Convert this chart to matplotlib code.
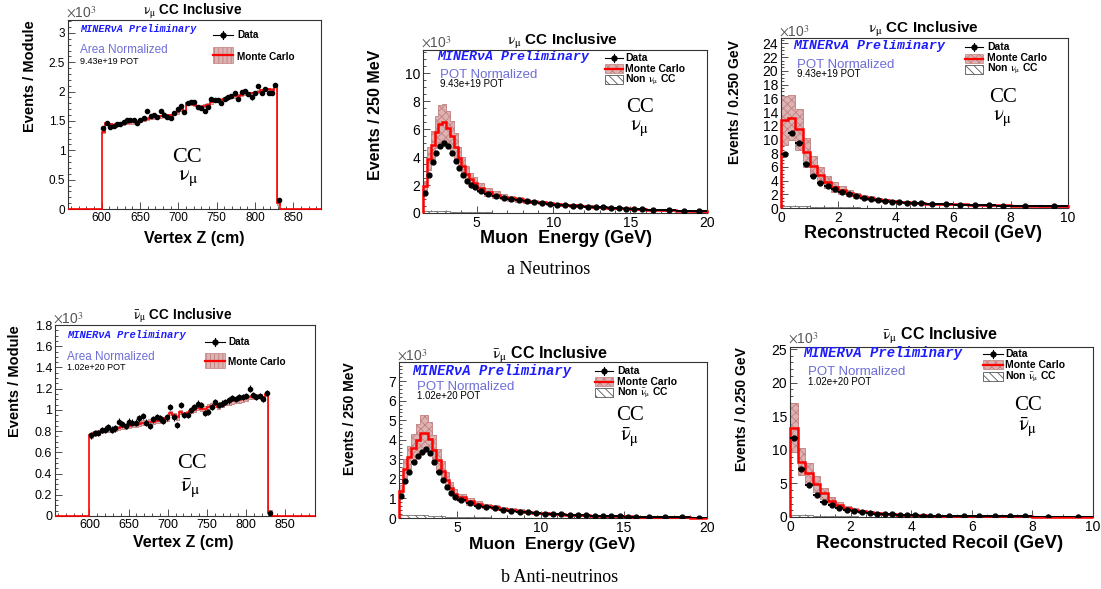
import numpy as np
import matplotlib
matplotlib.use("Agg")
import matplotlib.pyplot as plt
from matplotlib.lines import Line2D
from matplotlib.patches import Rectangle
from matplotlib.ticker import MultipleLocator, FuncFormatter

plt.rcParams["font.family"] = ["Liberation Sans", "DejaVu Sans"]
plt.rcParams["mathtext.fontset"] = "stix"
plt.rcParams["hatch.linewidth"] = 0.6
plt.rcParams["axes.linewidth"] = 0.8

# ============================ DATA (values in 10^3) ============================
# ---- Vertex Z : one bin per tracker module, plus one leakage bin ----
z_edges = np.linspace(600.0, 833.0, 54)
nu_z_data = [1.38, 1.46, 1.40, 1.41, 1.44, 1.45, 1.48, 1.52, 1.52, 1.52,
             1.46, 1.52, 1.55, 1.67, 1.59, 1.60, 1.57, 1.67, 1.61, 1.57,
             1.55, 1.63, 1.71, 1.76, 1.65, 1.80, 1.82, 1.82, 1.74, 1.72,
             1.67, 1.74, 1.88, 1.85, 1.85, 1.80, 1.88, 1.90, 1.92, 1.97,
             1.88, 1.99, 2.01, 1.96, 1.90, 1.98, 2.09, 1.98, 2.05, 1.98,
             1.98, 2.12, 0.15]
nu_z_mc = [1.32, 1.46, 1.44, 1.43, 1.44, 1.45, 1.46, 1.47, 1.48, 1.48,
           1.49, 1.50, 1.52, 1.54, 1.55, 1.56, 1.57, 1.58, 1.59, 1.60,
           1.60, 1.62, 1.65, 1.70, 1.66, 1.80, 1.80, 1.78, 1.75, 1.74,
           1.76, 1.78, 1.82, 1.84, 1.85, 1.86, 1.88, 1.90, 1.91, 1.92,
           1.93, 1.95, 1.97, 1.96, 1.97, 1.98, 2.00, 2.02, 2.03, 2.04,
           2.03, 2.10, 0.10]
anti_z_data = [0.76, 0.78, 0.78, 0.81, 0.815, 0.835, 0.815, 0.825, 0.89, 0.87,
               0.85, 0.89, 0.88, 0.88, 0.92, 0.94, 0.88, 0.85, 0.91, 0.935,
               0.92, 0.90, 0.93, 1.03, 0.93, 0.86, 1.045, 0.95, 0.95, 1.00,
               1.03, 1.06, 1.045, 0.97, 0.98, 1.03, 1.075, 1.045, 1.06, 1.075,
               1.09, 1.11, 1.10, 1.12, 1.12, 1.13, 1.20, 1.14, 1.12, 1.13,
               1.10, 1.16, 0.03]
anti_z_mc = [0.76, 0.78, 0.79, 0.80, 0.81, 0.81, 0.82, 0.82, 0.83, 0.84,
             0.84, 0.85, 0.86, 0.86, 0.87, 0.88, 0.88, 0.89, 0.89, 0.90,
             0.90, 0.91, 0.92, 0.97, 0.95, 0.93, 0.98, 0.96, 0.97, 0.99,
             1.00, 1.02, 1.01, 1.01, 1.03, 1.04, 1.05, 1.03, 1.05, 1.07,
             1.07, 1.08, 1.09, 1.09, 1.10, 1.11, 1.12, 1.12, 1.13, 1.13,
             1.11, 1.15, 0.03]
nu_z_data_err = 0.035
anti_z_data_err = 0.03
nu_z_mc_unc = 0.025
anti_z_mc_unc = 0.022

# ---- Muon energy (GeV) ----
emu_edges = [1.5, 1.75, 2.0, 2.25, 2.5, 2.75, 3.0, 3.25, 3.5, 3.75, 4.0, 4.25,
             4.5, 4.75, 5.0, 5.5, 6.0, 6.5, 7.0, 7.5, 8.0, 8.5, 9.0, 9.5, 10.0,
             10.5, 11.0, 11.5, 12.0, 12.5, 13.0, 13.5, 14.0, 14.5, 15.0, 15.5,
             16.0, 17.0, 18.0, 19.0, 20.0]
nu_e_data = [1.4, 2.7, 3.65, 4.3, 4.8, 5.0, 4.8, 4.3, 3.7, 3.2,
             2.75, 2.3, 2.0, 1.85, 1.6, 1.35, 1.2, 1.08, 0.98, 0.9,
             0.83, 0.77, 0.71, 0.65, 0.6, 0.56, 0.52, 0.49, 0.46, 0.43,
             0.4, 0.37, 0.34, 0.32, 0.3, 0.28, 0.24, 0.2, 0.16, 0.12]
nu_e_mc = [1.9, 3.9, 4.9, 5.8, 6.4, 6.5, 6.1, 5.5, 4.75, 3.95,
           3.35, 2.8, 2.4, 2.15, 1.8, 1.5, 1.32, 1.18, 1.06, 0.97,
           0.89, 0.82, 0.76, 0.7, 0.64, 0.59, 0.55, 0.51, 0.48, 0.45,
           0.42, 0.38, 0.35, 0.33, 0.31, 0.29, 0.25, 0.2, 0.16, 0.12]
nu_e_unc = [0.4, 0.8, 1.0, 1.15, 1.3, 1.3, 1.2, 1.1, 0.95, 0.8,
            0.65, 0.55, 0.45, 0.4, 0.32, 0.26, 0.22, 0.19, 0.17, 0.15,
            0.14, 0.13, 0.12, 0.11, 0.1, 0.09, 0.085, 0.08, 0.075, 0.07,
            0.065, 0.06, 0.055, 0.05, 0.048, 0.045, 0.04, 0.035, 0.03, 0.025]
nu_e_bkg = [0.12, 0.15, 0.15, 0.14, 0.13, 0.12, 0.11, 0.10, 0.09, 0.08,
            0.07, 0.06, 0.05, 0.05, 0.04, 0.04, 0.03, 0.03, 0.03, 0.02,
            0.02, 0.02, 0.02, 0.02, 0.01, 0.01, 0.01, 0.01, 0.01, 0.01,
            0.01, 0.01, 0.01, 0.01, 0.01, 0.01, 0.01, 0.01, 0.01, 0.01]
anti_e_data = [1.1, 1.9, 2.35, 2.85, 3.15, 3.4, 3.55, 3.35, 2.85, 2.35,
               1.95, 1.6, 1.27, 1.05, 0.9, 0.75, 0.63, 0.56, 0.5, 0.43,
               0.38, 0.33, 0.29, 0.26, 0.23, 0.2, 0.18, 0.16, 0.14, 0.13,
               0.11, 0.1, 0.09, 0.08, 0.07, 0.06, 0.05, 0.04, 0.03, 0.02]
anti_e_mc = [1.4, 2.5, 3.1, 3.6, 4.0, 4.35, 4.35, 4.05, 3.5, 2.95,
             2.4, 1.95, 1.55, 1.25, 1.05, 0.85, 0.72, 0.62, 0.55, 0.48,
             0.42, 0.37, 0.32, 0.28, 0.25, 0.22, 0.19, 0.17, 0.15, 0.14,
             0.12, 0.11, 0.1, 0.09, 0.08, 0.07, 0.055, 0.045, 0.035, 0.025]
anti_e_unc = [0.3, 0.5, 0.6, 0.7, 0.8, 0.9, 0.9, 0.85, 0.75, 0.6,
              0.5, 0.4, 0.3, 0.25, 0.2, 0.16, 0.13, 0.11, 0.1, 0.085,
              0.075, 0.065, 0.055, 0.05, 0.045, 0.04, 0.035, 0.03, 0.027, 0.025,
              0.022, 0.02, 0.018, 0.016, 0.015, 0.013, 0.011, 0.009, 0.007, 0.005]
anti_e_bkg = [0.15, 0.17, 0.17, 0.16, 0.15, 0.14, 0.13, 0.12, 0.10, 0.09,
              0.08, 0.07, 0.06, 0.05, 0.04, 0.04, 0.03, 0.03, 0.02, 0.02,
              0.02, 0.02, 0.01, 0.01, 0.01, 0.01, 0.01, 0.01, 0.01, 0.01,
              0.01, 0.01, 0.01, 0.01, 0.01, 0.01, 0.01, 0.01, 0.01, 0.01]

# ---- Reconstructed recoil (GeV) ----
recoil_edges = [0.0, 0.25, 0.5, 0.75, 1.0, 1.25, 1.5, 1.75, 2.0, 2.25, 2.5,
                2.75, 3.0, 3.25, 3.5, 3.75, 4.0, 4.25, 4.5, 4.75, 5.0,
                5.5, 6.0, 6.5, 7.0, 7.5, 8.0, 9.0, 10.0]
nu_r_data = [7.9, 10.9, 9.5, 6.4, 4.6, 3.7, 3.2, 2.7, 2.4, 2.0,
             1.7, 1.45, 1.27, 1.15, 1.02, 0.93, 0.86, 0.8, 0.73, 0.67,
             0.62, 0.56, 0.5, 0.45, 0.4, 0.36, 0.3, 0.25]
nu_r_mc = [12.8, 13.2, 11.5, 8.1, 6.1, 4.8, 3.8, 3.1, 2.65, 2.2,
           1.85, 1.6, 1.4, 1.25, 1.1, 1.0, 0.92, 0.85, 0.78, 0.71,
           0.65, 0.58, 0.52, 0.46, 0.41, 0.37, 0.3, 0.25]
nu_r_unc = [3.6, 3.3, 3.0, 2.1, 1.5, 1.2, 0.9, 0.7, 0.55, 0.45,
            0.38, 0.32, 0.28, 0.24, 0.21, 0.19, 0.17, 0.15, 0.14, 0.13,
            0.12, 0.1, 0.09, 0.08, 0.07, 0.06, 0.05, 0.04]
nu_r_bkg = [0.30, 0.35, 0.30, 0.25, 0.20, 0.18, 0.15, 0.12, 0.10, 0.09,
            0.08, 0.07, 0.06, 0.05, 0.05, 0.04, 0.04, 0.03, 0.03, 0.03,
            0.02, 0.02, 0.02, 0.02, 0.01, 0.01, 0.01, 0.01]
anti_r_data = [11.8, 7.1, 4.8, 3.2, 2.3, 1.8, 1.4, 1.05, 0.9, 0.75,
               0.62, 0.52, 0.45, 0.38, 0.33, 0.29, 0.25, 0.22, 0.2, 0.18,
               0.16, 0.14, 0.12, 0.11, 0.1, 0.09, 0.07, 0.06]
anti_r_mc = [13.3, 8.2, 6.5, 4.85, 3.5, 2.4, 1.8, 1.3, 1.05, 0.85,
             0.7, 0.58, 0.49, 0.42, 0.36, 0.31, 0.27, 0.24, 0.21, 0.19,
             0.17, 0.15, 0.13, 0.12, 0.1, 0.09, 0.07, 0.06]
anti_r_unc = [3.7, 2.0, 1.6, 1.2, 0.85, 0.6, 0.45, 0.33, 0.26, 0.21,
              0.17, 0.14, 0.12, 0.1, 0.09, 0.08, 0.07, 0.06, 0.05, 0.05,
              0.04, 0.04, 0.03, 0.03, 0.03, 0.02, 0.02, 0.02]
anti_r_bkg = [0.30, 0.28, 0.24, 0.20, 0.16, 0.13, 0.11, 0.09, 0.08, 0.07,
              0.06, 0.05, 0.05, 0.04, 0.04, 0.03, 0.03, 0.03, 0.02, 0.02,
              0.02, 0.02, 0.01, 0.01, 0.01, 0.01, 0.01, 0.01]

# ============================ FIGURE ============================
W, H = 1101, 589
fig = plt.figure(figsize=(W / 100, H / 100), dpi=100)
fig.patch.set_facecolor("white")


def fx(x):
    return x / W


def fy(y):
    return 1 - y / H


def add_ax(l, t, r, b):
    return fig.add_axes([fx(l), fy(b), (r - l) / W, (b - t) / H])


def ftext(x, y, s, **kw):
    return fig.text(fx(x), fy(y), s, **kw)


BAND_FACE = "#dcb3b3"
BAND_EDGE = "#c27f7f"
MINERVA_BLUE = "#1c1cff"
NORM_COLOR = "#6e6ed8"
NU = r"$\mathrm{\nu_{\mu}}$"
NUBAR = r"$\bar{\mathrm{\nu}}_{\mathrm{\mu}}$"


def style_axes(ax, xlim, ylim, xmaj, xmin_, ymaj, ymin_, labelsize):
    ax.set_xlim(*xlim)
    ax.set_ylim(*ylim)
    ax.xaxis.set_major_locator(MultipleLocator(xmaj))
    ax.xaxis.set_minor_locator(MultipleLocator(xmin_))
    ax.yaxis.set_major_locator(MultipleLocator(ymaj))
    ax.yaxis.set_minor_locator(MultipleLocator(ymin_))
    fmt = FuncFormatter(lambda v, _: f"{v:g}")
    ax.xaxis.set_major_formatter(fmt)
    ax.yaxis.set_major_formatter(fmt)
    ax.tick_params(which="both", direction="in", top=False, right=False,
                   labelsize=labelsize, width=0.6, color="#333333")
    ax.tick_params(which="major", length=5, pad=2)
    ax.tick_params(which="minor", length=2.5)
    for s in ax.spines.values():
        s.set_color("#333333")
        s.set_linewidth(0.8)


def draw_panel(ax, edges, data, mc, unc, data_err=None, bkg=None,
               full_edges=None, full_mc=None, hatch="xxxx",
               red_lw=1.8, ms=3.5, elw=1.4):
    edges = np.asarray(edges, dtype=float)
    mc = np.asarray(mc, dtype=float)
    lo = mc - np.asarray(unc, dtype=float)
    hi = mc + np.asarray(unc, dtype=float)
    ax.fill_between(edges, np.append(lo, lo[-1]), np.append(hi, hi[-1]),
                    step="post", facecolor=BAND_FACE, edgecolor=BAND_EDGE,
                    hatch=hatch, linewidth=0.6, zorder=2)
    if bkg is not None:
        ax.stairs(bkg, edges, fill=True, facecolor="white",
                  edgecolor="#555555", hatch="\\\\\\\\", linewidth=0.5, zorder=2.5)
    if full_edges is None:
        full_edges, full_mc = edges, mc
    ax.stairs(full_mc, full_edges, color="red", linewidth=red_lw,
              baseline=0, zorder=4, clip_on=False)
    centers = 0.5 * (edges[:-1] + edges[1:])
    half = 0.5 * (edges[1:] - edges[:-1])
    ax.errorbar(centers, data, xerr=half, yerr=data_err, fmt="o",
                color="black", ms=ms, elinewidth=elw, capsize=0, zorder=5)


def legend(xs0, xs1, text_x, y_data, mc_box, mc_y, size, non=None,
           mc_hatch="xxxx"):
    # Data entry
    fig.add_artist(Line2D([fx(xs0), fx(xs1)], [fy(y_data), fy(y_data)],
                          color="black", lw=0.8, transform=fig.transFigure))
    xc = 0.5 * (xs0 + xs1)
    fig.add_artist(Line2D([fx(xc), fx(xc)], [fy(y_data - 4), fy(y_data + 4)],
                          color="black", lw=0.8, transform=fig.transFigure))
    fig.add_artist(Line2D([fx(xc)], [fy(y_data)], marker="o", ms=3.5,
                          color="black", transform=fig.transFigure))
    ftext(text_x, y_data, "Data", fontsize=size, fontweight="bold",
          ha="left", va="center")
    # Monte Carlo entry
    t, b = mc_box
    fig.add_artist(Rectangle((fx(xs0), fy(b)), (xs1 - xs0) / W, (b - t) / H,
                             facecolor=BAND_FACE, edgecolor=BAND_EDGE,
                             hatch=mc_hatch, lw=0.5, transform=fig.transFigure))
    ym = 0.5 * (t + b)
    fig.add_artist(Line2D([fx(xs0), fx(xs1)], [fy(ym), fy(ym)], color="red",
                          lw=1.6, transform=fig.transFigure))
    ftext(text_x, mc_y, "Monte Carlo", fontsize=size, fontweight="bold",
          ha="left", va="center")
    if non is not None:
        (nt, nb), ny, nlabel = non
        fig.add_artist(Rectangle((fx(xs0), fy(nb)), (xs1 - xs0) / W, (nb - nt) / H,
                                 facecolor="white", edgecolor="#555555",
                                 hatch="\\\\\\\\", lw=0.6, transform=fig.transFigure))
        ftext(text_x, ny, nlabel, fontsize=size, fontweight="bold",
              ha="left", va="center")


def decorate(title, title_xy, title_size, x10_xy, xlabel, xlabel_xy, xlabel_size,
             ylabel, ylabel_xy, ylabel_size, minerva_xy, minerva_size,
             norm, norm_xy, norm_size, pot, pot_xy, pot_size,
             cc_xy, nu_xy, cc_size, nu_label, ylabel_family=None):
    ftext(*title_xy, title, fontsize=title_size, fontweight="bold",
          ha="center", va="center")
    ftext(*x10_xy, r"$\times$10$^{3}$", fontsize=10, color="#555555",
          ha="left", va="bottom")
    ftext(*xlabel_xy, xlabel, fontsize=xlabel_size, fontweight="bold",
          ha="center", va="center")
    kw = {}
    if ylabel_family is not None:
        kw["family"] = ylabel_family
    ftext(*ylabel_xy, ylabel, fontsize=ylabel_size, fontweight="bold",
          rotation=90, ha="center", va="top", **kw)
    ftext(*minerva_xy, "MINERνA Preliminary", fontsize=minerva_size,
          family=["Liberation Mono", "DejaVu Sans Mono"], fontweight="bold",
          style="italic", color=MINERVA_BLUE, ha="left", va="center")
    ftext(*norm_xy, norm, fontsize=norm_size, color=NORM_COLOR,
          ha="left", va="center")
    ftext(*pot_xy, pot, fontsize=pot_size, color="black", ha="left", va="center")
    ftext(*cc_xy, "CC", fontsize=cc_size, family="Liberation Serif",
          ha="center", va="center")
    ftext(*nu_xy, nu_label, fontsize=cc_size, ha="center", va="center")


# ---------------- Panel 1 : nu vertex Z ----------------
ax1 = add_ax(68, 20, 321, 209)
style_axes(ax1, (556, 886), (0, 3.22), 50, 10, 0.5, 0.1, 8.5)
z_full = np.concatenate([[556], z_edges, [886]])
draw_panel(ax1, z_edges, nu_z_data, nu_z_mc, nu_z_mc_unc, data_err=nu_z_data_err,
           full_edges=z_full, full_mc=np.concatenate([[0], nu_z_mc, [0]]),
           hatch="||||", red_lw=1.2, ms=3.0, elw=0.8)
decorate(NU + " CC Inclusive", (193, 11.5), 9.8, (66, 21), "Vertex Z (cm)", (194, 238), 11.5,
         "Events / Module", (30, 20), 10.5, (80, 29), 7.3,
         "Area Normalized", (80, 50), 8.5, "9.43e+19 POT", (80, 61), 6.5,
         (187, 157), (188, 178), 16, NU)
legend(213, 233, 237, 35, (47, 63), 57, 7.2, mc_hatch="||||")

# ---------------- Panel 2 : nu muon energy ----------------
ax2 = add_ax(423, 50, 707, 213)
style_axes(ax2, (1.5, 20), (0, 11.67), 5, 1, 2, 0.5, 10)
draw_panel(ax2, emu_edges, nu_e_data, nu_e_mc, nu_e_unc, bkg=nu_e_bkg)
decorate(NU + " CC Inclusive", (562, 42), 11, (421, 51), "Muon  Energy (GeV)", (566, 239), 13,
         "Events / 250 MeV", (375, 50), 11.5, (437, 57), 9.5,
         "POT Normalized", (440, 75), 9.5, "9.43e+19 POT", (440, 84), 7,
         (640, 108), (640, 128), 15, NU,
         ylabel_family=["Liberation Sans Narrow", "Liberation Sans"])
legend(605, 623, 625, 58, (64, 73), 69, 7.5,
       non=((75, 84), 80, "Non " + NU + " CC"))

# ---------------- Panel 3 : nu recoil ----------------
ax3 = add_ax(781, 38, 1068, 208)
style_axes(ax3, (0, 10), (0, 24.8), 2, 0.5, 2, 0.5, 10)
draw_panel(ax3, recoil_edges, nu_r_data, nu_r_mc, nu_r_unc, bkg=nu_r_bkg)
decorate(NU + " CC Inclusive", (923, 30), 11, (779, 40), "Reconstructed Recoil (GeV)", (923, 234), 13,
         "Events / 0.250 GeV", (735, 40), 10, (793, 46), 9.5,
         "POT Normalized", (797, 65), 9.5, "9.43e+19 POT", (797, 74), 7,
         (1003, 97), (1003, 118), 15, NU)
legend(965, 983, 987, 47, (54, 63), 58, 7.5,
       non=((65, 74), 69, "Non " + NU + " CC"))

# ---------------- Panel 4 : anti-nu vertex Z ----------------
ax4 = add_ax(55, 325, 315, 516)
style_axes(ax4, (556, 888), (0, 1.80), 50, 10, 0.2, 0.05, 9)
z_full4 = np.concatenate([[556], z_edges, [888]])
draw_panel(ax4, z_edges, anti_z_data, anti_z_mc, anti_z_mc_unc, data_err=anti_z_data_err,
           full_edges=z_full4, full_mc=np.concatenate([[0], anti_z_mc, [0]]),
           hatch="||||", red_lw=1.2, ms=3.0, elw=0.8)
decorate(NUBAR + " CC Inclusive", (183, 316), 9.8, (53, 327), "Vertex Z (cm)", (183, 543), 11.5,
         "Events / Module", (15, 325), 10.5, (67, 335), 7.6,
         "Area Normalized", (67, 357), 8.5, "1.02e+20 POT", (67, 367), 6.5,
         (192, 463), (190, 488), 16, NUBAR)
legend(205, 225, 228, 342, (353, 368), 362, 7.2, mc_hatch="||||")

# ---------------- Panel 5 : anti-nu muon energy ----------------
ax5 = add_ax(399, 362, 707, 518)
style_axes(ax5, (1.5, 20), (0, 7.98), 5, 1, 1, 0.2, 10)
draw_panel(ax5, emu_edges, anti_e_data, anti_e_mc, anti_e_unc, bkg=anti_e_bkg)
decorate(NUBAR + " CC Inclusive", (550, 355), 11.5, (397, 364), "Muon  Energy (GeV)", (552, 544), 12.5,
         "Events / 250 MeV", (350, 362), 10, (412, 371), 10,
         "POT Normalized", (417, 387), 9.5, "1.02e+20 POT", (417, 396), 7,
         (630, 416), (630, 437), 15, NUBAR,
         ylabel_family=["Liberation Sans Narrow", "Liberation Sans"])
legend(595, 613, 617, 371, (377, 386), 382, 7.5,
       non=((388, 397), 393, "Non " + NUBAR + " CC"))

# ---------------- Panel 6 : anti-nu recoil ----------------
ax6 = add_ax(790, 347, 1093, 517)
style_axes(ax6, (0, 10), (0, 25.3), 2, 0.5, 5, 1, 10)
draw_panel(ax6, recoil_edges, anti_r_data, anti_r_mc, anti_r_unc, bkg=anti_r_bkg)
decorate(NUBAR + " CC Inclusive", (940, 336), 11.5, (788, 347), "Reconstructed Recoil (GeV)", (940, 544), 13.5,
         "Events / 0.250 GeV", (742, 347), 10, (803, 353), 10,
         "POT Normalized", (808, 372), 9.5, "1.02e+20 POT", (808, 382), 7,
         (1028, 405), (1028, 427), 15, NUBAR)
legend(983, 1003, 1005, 354, (360, 369), 365.5, 7.5,
       non=((372, 381), 377, "Non " + NUBAR + " CC"))

# ---------------- captions ----------------
ftext(549, 270, "a Neutrinos", fontsize=13, family="Liberation Serif",
      ha="center", va="center")
ftext(560, 578, "b Anti-neutrinos", fontsize=13, family="Liberation Serif",
      ha="center", va="center")

fig.savefig("out.png", dpi=100, facecolor="white")
